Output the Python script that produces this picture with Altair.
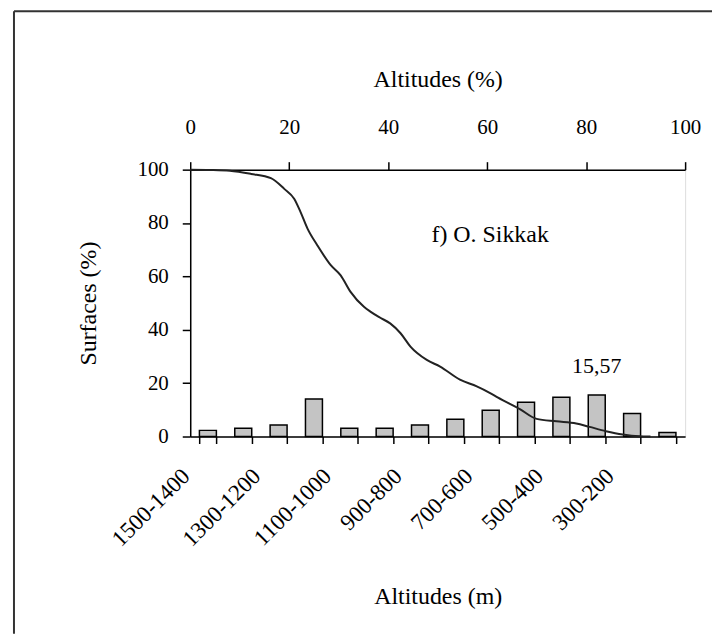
import altair as alt
import pandas as pd

# ---- data ----
categories = ["1500-1400", "1400-1300", "1300-1200", "1200-1100", "1100-1000",
              "1000-900", "900-800", "800-700", "700-600", "600-500",
              "500-400", "400-300", "300-200", "200-100"]
bar_surfaces = [2.3, 3.1, 4.3, 14.1, 3.1, 3.1, 4.3, 6.5, 9.8, 12.8, 14.7, 15.57, 8.6, 1.5]
shown_labels = ["1500-1400", "1300-1200", "1100-1000", "900-800", "700-600", "500-400", "300-200"]
peak_category = "400-300"
peak_value = 15.57
peak_text = "15,57"

curve_altitude_pct = [0, 4, 8, 12.3, 16.3, 19.0, 21.0, 22.3, 23.7, 25.7, 28.4, 30.4, 32.4,
                      35.1, 36.4, 38.4, 40.4, 42.5, 44.5, 47.8, 50.5, 54.5, 57.9, 60.6,
                      62.2, 66.6, 70.0, 74.0, 78.0, 80.7, 84.0, 87.4, 90.7, 93.0]
curve_surface_pct = [100, 99.9, 99.6, 98.4, 96.8, 92.8, 89.1, 84.1, 77.9, 71.6, 64.2, 60.4, 54.2,
                     48.6, 46.8, 44.5, 42.4, 38.7, 33.7, 28.7, 26.2, 21.3, 18.8, 16.3,
                     14.6, 10.3, 6.6, 5.7, 4.9, 3.6, 2.0, 0.75, 0.1, 0.0]

station_label = "f) O. Sikkak"
station_x, station_y = 60.6, 75.4

y_ticks = [0, 20, 40, 60, 80, 100]
x_top_ticks = [0, 20, 40, 60, 80, 100]

# ---- layout ----
W, H = 497, 268
FONT = "Liberation Serif"
LBL = 21
BLBL = 23
TTL = 24

bars_df = pd.DataFrame({"cat": categories, "surf": bar_surfaces})
peak_df = pd.DataFrame({"cat": [peak_category], "surf": [peak_value], "txt": [peak_text]})
curve_df = pd.DataFrame({"alt": curve_altitude_pct, "surf": curve_surface_pct})
station_df = pd.DataFrame({"alt": [station_x], "surf": [station_y], "txt": [station_label]})
one_df = pd.DataFrame({"k": [0]})

shown_js = "[" + ",".join("'" + s + "'" for s in shown_labels) + "]"

y_axis = alt.Axis(title="Surfaces (%)", values=y_ticks, tickSize=8, labelPadding=14,
                  titlePadding=37, grid=False, domainColor="black", tickColor="black",
                  domainWidth=1.5, tickWidth=1.5,
                  labelFont=FONT, labelFontSize=LBL, labelColor="black",
                  titleFont=FONT, titleFontSize=TTL, titleFontWeight="normal", titleColor="black")
y_scale = alt.Scale(domain=[0, 100], nice=False)

x_band = alt.X("cat:N", sort=categories,
               scale=alt.Scale(paddingInner=0.52, paddingOuter=0.26),
               axis=alt.Axis(orient="bottom", title="Altitudes (m)", labelAngle=-45,
                             labelExpr="indexof(" + shown_js + ", datum.value) >= 0 ? datum.label : ''",
                             tickBand="extent", tickSize=7, labelPadding=21, labelOffset=-30,
                             titlePadding=34, grid=False, domainColor="black", tickColor="black",
                             domainWidth=1.5, tickWidth=1.5,
                             labelFont=FONT, labelFontSize=BLBL, labelColor="black",
                             titleFont=FONT, titleFontSize=TTL, titleFontWeight="normal",
                             titleColor="black"))

bars = alt.Chart(bars_df).mark_bar(fill="#c4c4c4", stroke="black", strokeWidth=1.5).encode(
    x=x_band,
    y=alt.Y("surf:Q", scale=y_scale, axis=y_axis),
)
peak = alt.Chart(peak_df).mark_text(font=FONT, fontSize=22, color="black", baseline="alphabetic",
                                    dy=-22).encode(
    x=alt.X("cat:N", sort=categories),
    y=alt.Y("surf:Q", scale=y_scale, axis=y_axis),
    text="txt:N",
)
bottom_group = alt.layer(bars, peak)

x_top = alt.X("alt:Q", scale=alt.Scale(domain=[0, 100], nice=False),
              axis=alt.Axis(orient="top", title="Altitudes (%)", values=x_top_ticks, tickSize=8,
                            labelPadding=24, titlePadding=25, grid=False, labelFlush=False,
                            domainColor="black", tickColor="black", domainWidth=1.5, tickWidth=1.5,
                            labelFont=FONT, labelFontSize=LBL, labelColor="black",
                            titleFont=FONT, titleFontSize=TTL, titleFontWeight="normal",
                            titleColor="black"))

curve = alt.Chart(curve_df).mark_line(color="#222222", strokeWidth=2, interpolate="monotone").encode(
    x=x_top,
    y=alt.Y("surf:Q", scale=y_scale, axis=y_axis),
)
station = alt.Chart(station_df).mark_text(font=FONT, fontSize=TTL, color="black", align="center",
                                          baseline="middle").encode(
    x=alt.X("alt:Q"),
    y=alt.Y("surf:Q", scale=y_scale, axis=y_axis),
    text="txt:N",
)

# outer frame of the figure (top and left edges; right/bottom lie outside the picture)
frame_top = alt.Chart(one_df).mark_rule(color="#333333", strokeWidth=2).encode(
    x=alt.value(-177), x2=alt.value(W + 27), y=alt.value(-159))
frame_left = alt.Chart(one_df).mark_rule(color="#333333", strokeWidth=2).encode(
    x=alt.value(-177), y=alt.value(-159), y2=alt.value(H + 198))

top_group = alt.layer(curve, station, frame_top, frame_left)

chart = alt.layer(bottom_group, top_group).resolve_scale(x="independent").properties(
    width=W, height=H, padding={"left": 5, "top": 1, "right": 0, "bottom": 0}
).configure_view(stroke="#555555", strokeWidth=1.5).configure(background="white")

chart.save("out.html", embed_options={"renderer": "svg", "actions": False})
